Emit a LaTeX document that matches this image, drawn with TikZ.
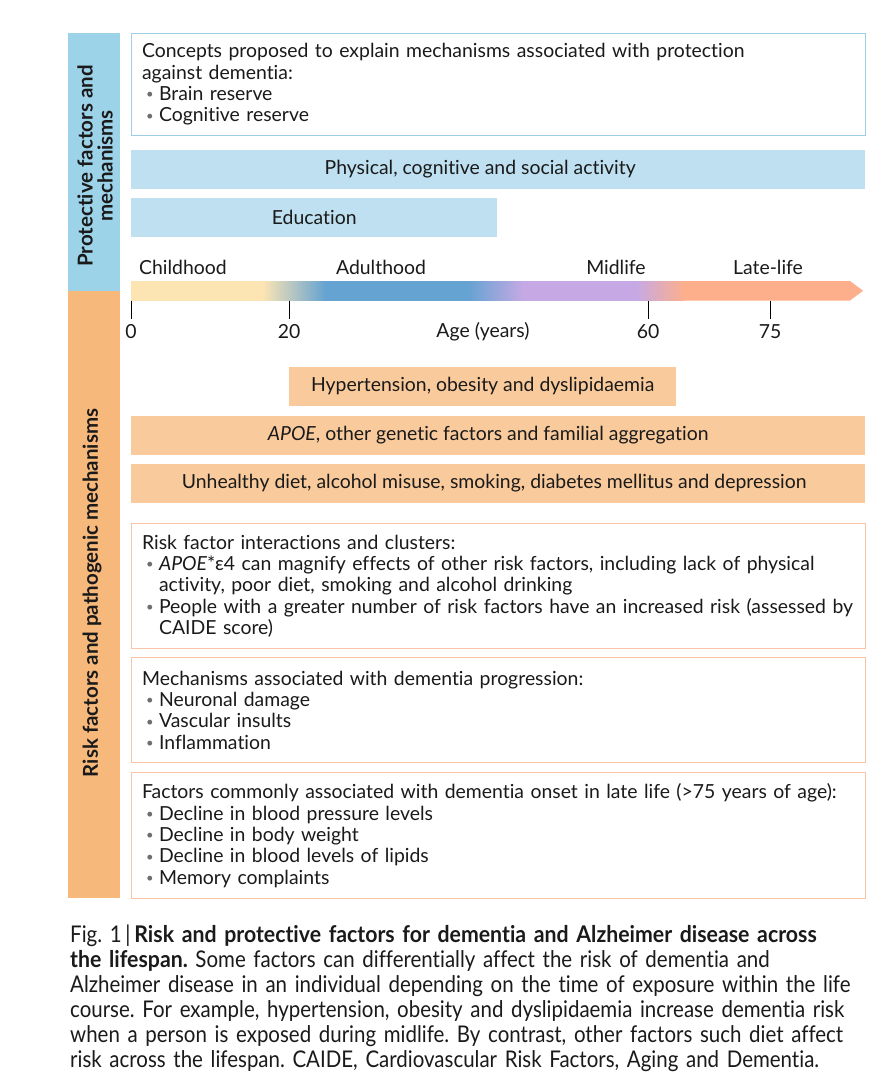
\documentclass[tikz,border=0pt]{standalone}
\usepackage{fontspec}
\setmainfont{Lato}[Ligatures=NoCommon]
\newfontfamily\capfont{Lato}[FakeStretch=0.89,BoldFeatures={FakeStretch=0.925},Ligatures=NoCommon]
\definecolor{sideblue}{HTML}{9DD3E8}
\definecolor{sideorange}{HTML}{F6B97B}
\definecolor{fillblue}{HTML}{BEE0F0}
\definecolor{fillorange}{HTML}{F9CB9C}
\definecolor{boxblue}{HTML}{9FCFE6}
\definecolor{boxsalmon}{HTML}{F8C4A8}
\definecolor{gyellow}{HTML}{FDE5B3}
\definecolor{gblue}{HTML}{65A3D2}
\definecolor{gpurple}{HTML}{C6A9E4}
\definecolor{gsalmon}{HTML}{FDAF8C}
\definecolor{bulgray}{HTML}{6E6E6E}
\definecolor{txt}{HTML}{1A1A1A}
\newcommand\mybul{{\color{bulgray}\fontsize{13pt}{13pt}\selectfont\raisebox{1.6pt}{\textbullet}}}
\newcommand\bitem[1]{\par\hangindent=17pt\hangafter=1\noindent\makebox[17pt][l]{\hspace{4pt}\mybul}#1\par}
\newcommand\brk{\hfil\break}
\tikzset{
  bodyfont/.style={font=\fontsize{19.4pt}{21.3pt}\selectfont, text=txt},
  sidebar/.style={draw=none, inner sep=0pt, anchor=north west, minimum width=52pt},
  sidetext/.style={font=\bfseries\fontsize{20.5pt}{21pt}\selectfont, text=txt, rotate=90, align=center},
  bluebar/.style={fill=fillblue, draw=none, inner sep=0pt, anchor=north west, minimum height=38.5pt},
  orangebar/.style={fill=fillorange, draw=none, inner sep=0pt, anchor=north west, minimum height=38.5pt},
  bartext/.style={bodyfont, inner sep=0pt},
  textbox/.style={bodyfont, fill=white, line width=1.1pt, anchor=north west, align=left,
     inner xsep=10.5pt, inner ysep=0pt, text width=713pt, minimum width=734pt},
  agelabel/.style={bodyfont, inner sep=0pt},
  tick/.style={line width=0.9pt, draw=black},
}
\begin{document}
\begin{tikzpicture}[x=1pt,y=-1pt]
\useasboundingbox (0,0) rectangle (892,1082);
\fill[white] (0,0) rectangle (892,1082);

% side bars
\node[sidebar, fill=sideblue, minimum height=258pt] (sideP) at (68,33) {};
\node[sidebar, fill=sideorange, minimum height=607pt] (sideR) at (68,291) {};
\node[sidetext] (sidePt) at (95,166) {Protective factors and\\[-1pt]mechanisms};
\node[sidetext] (sideRt) at (92,593) {Risk factors and pathogenic mechanisms};

% protective boxes
\node[textbox, draw=boxblue, minimum height=102pt] (concepts) at (131,33)
  {Concepts proposed to explain mechanisms associated with protection\brk
   against dementia:
   \bitem{Brain reserve}
   \bitem{Cognitive reserve}};
\node[bluebar, minimum width=734pt] (phys) at (131,150) {};
\node[bartext] (physT) at ([xshift=-18pt]phys.center) {Physical, cognitive and social activity};
\node[bluebar, minimum width=366pt] (edu) at (131,198) {};
\node[bartext] (eduT) at (edu.center) {Education};

% life stage labels
\node[agelabel, anchor=west] (child) at (139,267) {Childhood};
\node[agelabel] (adult) at (381,267) {Adulthood};
\node[agelabel] (mid) at (616,267) {Midlife};
\node[agelabel] (late) at (768,267) {Late-life};

% gradient arrow
\fill[gyellow] (131,281) rectangle (262.5,300.5);
\shade[left color=gyellow, right color=gblue] (262,281) rectangle (325.5,300.5);
\fill[gblue] (325,281) rectangle (468.5,300.5);
\shade[left color=gblue, right color=gpurple] (468,281) rectangle (523.5,300.5);
\fill[gpurple] (523,281) rectangle (636.5,300.5);
\shade[left color=gpurple, right color=gsalmon] (636,281) rectangle (684.5,300.5);
\fill[gsalmon] (684,281) -- (850,281) -- (863,290.75) -- (850,300.5) -- (684,300.5) -- cycle;

% ticks
\foreach \xx/\lab [count=\i] in {131/0, 289/20, 648/60, 770/75}{
  \coordinate (tk\i) at (\xx,300.5);
  \draw[tick] (tk\i) -- ++(0,18);
  \node[agelabel] (tl\i) at (\xx,332) {\lab};
}
\node[agelabel] (agetitle) at (483,332) {Age (years)};

% risk bars
\node[orangebar, minimum width=387pt] (hyp) at (289,367) {};
\node[bartext] (hypT) at (hyp.center) {Hypertension, obesity and dyslipidaemia};
\node[orangebar, minimum width=734pt] (apoe) at (131,416) {};
\node[bartext] (apoeT) at ([xshift=-10pt]apoe.center) {\textit{APOE}, other genetic factors and familial aggregation};
\node[orangebar, minimum width=734pt] (diet) at (131,464) {};
\node[bartext] (dietT) at ([xshift=-4pt]diet.center) {Unhealthy diet, alcohol misuse, smoking, diabetes mellitus and depression};

% risk text boxes
\node[textbox, draw=boxsalmon, minimum height=125pt] (inter) at (131,523)
  {Risk factor interactions and clusters:
   \bitem{\textit{APOE}*ε4 can magnify effects of other risk factors, including lack of physical\brk activity, poor diet, smoking and alcohol drinking}
   \bitem{People with a greater number of risk factors have an increased risk (assessed by\brk CAIDE score)}};
\node[textbox, draw=boxsalmon, minimum height=105pt] (mech) at (131,657)
  {Mechanisms associated with dementia progression:
   \bitem{Neuronal damage}
   \bitem{Vascular insults}
   \bitem{Inflammation}};
\node[textbox, draw=boxsalmon, minimum height=126pt] (onset) at (131,772)
  {Factors commonly associated with dementia onset in late life (>75 years of age):
   \bitem{Decline in blood pressure levels}
   \bitem{Decline in body weight}
   \bitem{Decline in blood levels of lipids}
   \bitem{Memory complaints}};

% caption
\node[anchor=base west, inner sep=0pt, text width=820pt, align=left,
      font=\capfont\frenchspacing\fontsize{23pt}{25pt}\selectfont, text=txt] (caption) at (70,942)
  {Fig.~1\,|\,\textbf{Risk and protective factors for dementia and Alzheimer disease across}\\
   \textbf{the lifespan.} Some factors can differentially affect the risk of dementia and\\
   Alzheimer disease in an individual depending on the time of exposure within the life\\
   course. For example, hypertension, obesity and dyslipidaemia increase dementia risk\\
   when a person is exposed during midlife. By contrast, other factors such diet affect\\
   risk across the lifespan. CAIDE, Cardiovascular Risk Factors, Aging and Dementia.};
\end{tikzpicture}
\end{document}
